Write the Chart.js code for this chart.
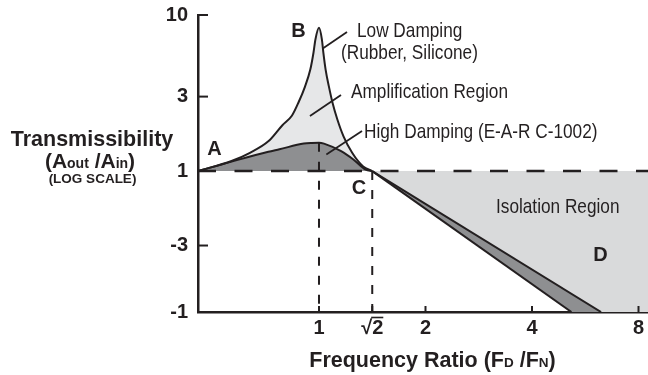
<!DOCTYPE html>
<html><head><meta charset="utf-8">
<script src="https://cdn.jsdelivr.net/npm/chart.js@4/dist/chart.umd.min.js"></script>
<style>html,body{margin:0;padding:0;background:#fff}canvas{display:block}</style>
</head><body>
<canvas id="c" width="648" height="375"></canvas>
<script>
// ---- data ----
const xTickValues = [1, Math.SQRT2, 2, 4, 8];
const xTickLabels = ['1', '√2', '2', '4', '8'];
const yTickValues = [10, 3, 1, 1 / 3, 0.125];
const yTickLabels = ['10', '3', '1', '-3', '-1'];
const xMin = 0.455, xMax = 8.51;
const yMin = 0.125, yMax = 10;

// Low damping (rubber, silicone) transmissibility curve
const lowDampingX = [0.455, 0.566, 0.638, 0.719, 0.787, 0.839, 0.875, 0.913, 0.945, 0.965, 0.977, 1.0,
                     1.019, 1.029, 1.044, 1.066, 1.092, 1.127, 1.173, 1.241, 1.333, 1.414, 5.17];
const lowDampingY = [1.0, 1.16, 1.31, 1.55, 1.96, 2.27, 2.75, 3.48, 4.47, 5.75, 6.97, 8.28,
                     6.97, 5.72, 4.47, 3.50, 2.74, 2.14, 1.67, 1.31, 1.07, 1.0, 0.125];
// High damping (E-A-R C-1002) transmissibility curve
const highDampingX = [0.455, 0.566, 0.719, 0.773, 0.906, 0.954, 1.0, 1.033, 1.155, 1.251, 1.355, 1.414, 6.27];
const highDampingY = [1.0, 1.15, 1.33, 1.38, 1.50, 1.515, 1.52, 1.50, 1.34, 1.185, 1.02, 1.0, 0.125];
// crossover point (both curves pass through transmissibility 1 here)
const crossX = 1.414;

// ---- styles ----
const INK = '#231f20';
const LIGHT = '#e6e7e8';
const ISO = '#d9dadb';
const DARK = '#8e8f91';
const NONE = 'rgba(0,0,0,0)';
const FAM = '"Liberation Sans", Arial, sans-serif';
const BOLD = 'bold 20px ' + FAM;

const R2 = Math.SQRT2;
const pts = (xs, ys) => xs.map((x, i) => ({ x, y: ys[i] }));
const lowPts = pts(lowDampingX, lowDampingY);
const highPts = pts(highDampingX, highDampingY);
const highEndX = highDampingX[highDampingX.length - 1];
const lowCurve = lowPts.filter(p => p.x <= crossX);
const highCurve = highPts.filter(p => p.x <= crossX);
const lowTail = lowPts.filter(p => p.x >= crossX);
const highTail = highPts.filter(p => p.x >= crossX);
const wedgePts = lowTail.concat([{ x: highEndX, y: yMin }]);
const isoPts = highTail.concat([{ x: xMax, y: yMin }]);
const highPeak = Math.max(...highDampingY);
const lowPeak = Math.max(...lowDampingY);

function hasFont(name) {
  const c = document.createElement('canvas').getContext('2d');
  const s = 'Low Damping WWiill 123';
  let r = false;
  ['monospace', 'serif'].forEach(f => {
    c.font = '20px ' + f; const a = c.measureText(s).width;
    c.font = '20px "' + name + '", ' + f; const b = c.measureText(s).width;
    if (a !== b) r = true;
  });
  return r;
}
const NARROW_OK = hasFont('Liberation Sans Narrow');

function narrowText(ctx, text, x, y) {
  ctx.save();
  ctx.fillStyle = INK;
  ctx.textAlign = 'left';
  ctx.textBaseline = 'alphabetic';
  if (NARROW_OK) {
    ctx.font = '21px "Liberation Sans Narrow"';
    ctx.fillText(text, x, y);
  } else {
    ctx.font = '21px ' + FAM;
    ctx.translate(x, y); ctx.scale(0.82, 1);
    ctx.fillText(text, 0, 0);
  }
  ctx.restore();
}

function pieces(ctx, parts, cx, baseline) {
  let w = 0;
  parts.forEach(p => { ctx.font = p[1]; w += ctx.measureText(p[0]).width; });
  let x = cx - w / 2;
  ctx.textAlign = 'left'; ctx.textBaseline = 'alphabetic';
  parts.forEach(p => { ctx.font = p[1]; ctx.fillText(p[0], x, baseline); x += ctx.measureText(p[0]).width; });
}

function line(ctx, x1, y1, x2, y2) { ctx.beginPath(); ctx.moveTo(x1, y1); ctx.lineTo(x2, y2); ctx.stroke(); }

const decor = {
  id: 'decor',
  afterDatasetsDraw(chart) {
    const { ctx, chartArea: a, scales: { x, y } } = chart;
    ctx.save();
    ctx.strokeStyle = INK; ctx.fillStyle = INK; ctx.lineWidth = 2;
    // inward tick marks
    x.ticks.forEach(t => { const px = x.getPixelForValue(t.value); line(ctx, px, a.bottom, px, a.bottom - 6); });
    y.ticks.forEach(t => {
      if (t.value <= yMin || t.value === 1) return;
      const py = y.getPixelForValue(t.value); line(ctx, a.left, py, a.left + 10, py);
    });
    // vinculum over the 2 of the root-2 tick label
    ctx.font = BOLD;
    const wAll = ctx.measureText('√2').width, w2 = ctx.measureText('2').width;
    const pr = x.getPixelForValue(R2);
    ctx.lineWidth = 1.6;
    line(ctx, pr + wAll / 2 - w2 - 1, a.bottom + 5.5, pr + wAll / 2, a.bottom + 5.5);
    // leader lines
    ctx.lineWidth = 1.8;
    const lead = (dx, dy, tx, ty) => line(ctx, x.getPixelForValue(dx), y.getPixelForValue(dy), tx, ty);
    lead(1.025, 6.1, 347, 32);
    lead(0.943, 2.25, 341, 95);
    lead(1.049, 1.276, 362, 131);
    // point letters
    ctx.font = BOLD; ctx.textAlign = 'center'; ctx.textBaseline = 'middle';
    ctx.fillText('B', x.getPixelForValue(1) - 20.5, y.getPixelForValue(lowPeak) + 3.5);
    ctx.fillText('A', 214.5, 149);
    ctx.fillText('C', x.getPixelForValue(R2) - 13.3, y.getPixelForValue(1) + 17.5);
    ctx.fillText('D', 600.5, 255.5);
    // region labels
    narrowText(ctx, 'Low Damping', 357, 37);
    narrowText(ctx, '(Rubber, Silicone)', 341, 58.5);
    narrowText(ctx, 'Amplification Region', 351, 98);
    narrowText(ctx, 'High Damping (E-A-R C-1002)', 364, 138);
    narrowText(ctx, 'Isolation Region', 496, 213);
    // axis titles
    const F = (s) => 'bold ' + s + 'px ' + FAM;
    ctx.fillStyle = INK;
    pieces(ctx, [['Transmissibility', F(21.5)]], 92, 146);
    pieces(ctx, [['(', F(21)], ['A', F(21)], ['out', F(14)], [' /', F(21)], ['A', F(21)], ['in', F(14)], [')', F(21)]], 90, 168);
    pieces(ctx, [['(LOG SCALE)', F(13.5)]], 92.5, 183);
    pieces(ctx, [['Frequency Ratio (F', F(21.5)], ['D', F(13.5)], [' /F', F(21.5)], ['N', F(13.5)], [')', F(21.5)]], 432.5, 367);
    ctx.restore();
  }
};

const lineBase = { pointRadius: 0, borderColor: INK, fill: false, tension: 0, borderWidth: 2 };

new Chart(document.getElementById('c'), {
  type: 'line',
  data: {
    datasets: [
      Object.assign({}, lineBase, { label: 'Low Damping', data: lowCurve,
        cubicInterpolationMode: 'monotone', fill: { target: 1, above: LIGHT, below: LIGHT } }),
      Object.assign({}, lineBase, { label: 'High Damping', data: highCurve,
        cubicInterpolationMode: 'monotone', fill: { value: 1, above: DARK, below: DARK } }),
      Object.assign({}, lineBase, { label: 'High Damping tail', data: highTail }),
      Object.assign({}, lineBase, { label: 'Low Damping tail', data: lowTail }),
      Object.assign({}, lineBase, { label: 'Isolation Region', data: isoPts, borderWidth: 0,
        borderColor: NONE, fill: { value: 1, above: ISO, below: ISO } }),
      Object.assign({}, lineBase, { label: 'Damping wedge', data: wedgePts, borderWidth: 0,
        borderColor: NONE, fill: { value: 1, above: DARK, below: DARK } }),
      Object.assign({}, lineBase, { label: 'unity', data: [{ x: xMin, y: 1 }, { x: xMax, y: 1 }],
        borderWidth: 2.5, borderDash: [18, 18.5] }),
      Object.assign({}, lineBase, { label: 'resonance', data: [{ x: 1, y: highPeak }, { x: 1, y: yMin }],
        borderDash: [9, 10] }),
      Object.assign({}, lineBase, { label: 'crossover', data: [{ x: R2, y: 1 }, { x: R2, y: yMin }],
        borderDash: [9, 10] })
    ]
  },
  options: {
    responsive: false,
    devicePixelRatio: 1,
    animation: false,
    events: [],
    layout: { padding: { top: 15, right: 0, left: 0, bottom: 0 } },
    plugins: { legend: { display: false }, tooltip: { enabled: false }, filler: { drawTime: 'beforeDatasetsDraw' } },
    scales: {
      x: {
        type: 'logarithmic', min: xMin, max: xMax,
        afterBuildTicks: s => { s.ticks = xTickValues.map(v => ({ value: v })); },
        afterFit: s => { s.height = 63; s.paddingLeft = 0; s.paddingRight = 0; },
        ticks: { callback: (v, i) => xTickLabels[i], font: { family: FAM, size: 20, weight: 'bold' },
                 color: INK, padding: 4, autoSkip: false, maxRotation: 0 },
        grid: { display: false, drawTicks: false },
        border: { display: true, color: INK, width: 2.5 }
      },
      y: {
        type: 'logarithmic', min: yMin, max: yMax,
        afterBuildTicks: s => { s.ticks = yTickValues.map(v => ({ value: v })); },
        afterFit: s => { s.width = 198; s.paddingTop = 0; s.paddingBottom = 0; },
        ticks: { callback: (v, i) => yTickLabels[i], font: { family: FAM, size: 20, weight: 'bold' },
                 color: INK, padding: 10, autoSkip: false },
        grid: { display: false, drawTicks: false },
        border: { display: true, color: INK, width: 2.5 }
      }
    }
  },
  plugins: [decor]
});
</script>
</body></html>
